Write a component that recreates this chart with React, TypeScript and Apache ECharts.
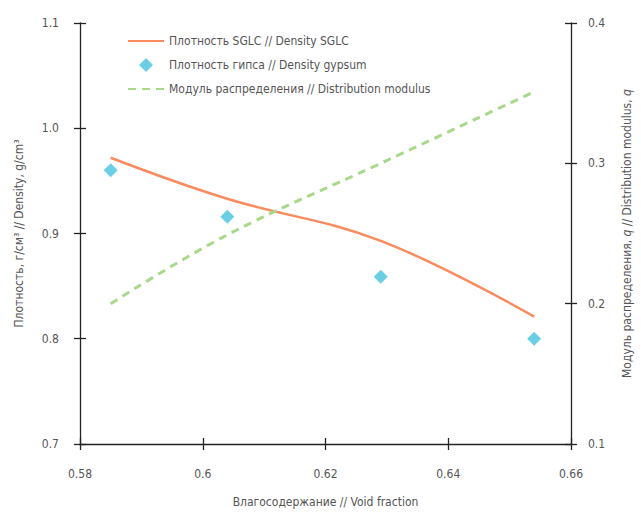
import React, { useEffect, useRef } from "react";
import * as echarts from "echarts";

const voidFraction = [0.585, 0.604, 0.629, 0.654];
const densitySGLC = [0.972, 0.933, 0.893, 0.821];
const densityGypsum = [0.96, 0.916, 0.859, 0.8];
const distributionModulus = [0.2, 0.249, 0.3, 0.351];

const xTicks = { min: 0.58, max: 0.66, interval: 0.02 };
const yLeftTicks = { min: 0.7, max: 1.1, interval: 0.1 };
const yRightTicks = { min: 0.1, max: 0.4, interval: 0.1 };

const FONT = "'DejaVu Sans Condensed', 'Liberation Sans Narrow', sans-serif";
const TEXT = "#555555";
const AXIS = "#222222";
const FS = 12;

const pairs = (xs: number[], ys: number[]) => xs.map((x, i) => [x, ys[i]]);

export default function App() {
  const ref = useRef<HTMLDivElement>(null);
  useEffect(() => {
    if (!ref.current) return;
    const chart = echarts.init(ref.current, null, { renderer: "svg" });
    const axisLine = { show: true, lineStyle: { color: AXIS, width: 1.3 } };
    const tickOut = { show: true, inside: false, length: 6, lineStyle: { color: AXIS, width: 1.3 } };
    const tickIn = { show: true, inside: true, length: 6, lineStyle: { color: AXIS, width: 1.3 } };
    const fmt2 = (v: number) => String(+v.toFixed(2));
    const fmt1 = (v: number) => v.toFixed(1);
    const hidden = { color: "rgba(0,0,0,0)", borderWidth: 0, opacity: 0 };
    chart.setOption({
      animation: false,
      backgroundColor: "#ffffff",
      textStyle: { fontFamily: FONT },
      grid: { left: 80, right: 66, top: 23, bottom: 57, containLabel: false },
      legend: {
        orient: "vertical",
        left: 122,
        top: 30,
        itemWidth: 36,
        itemHeight: 14,
        itemGap: 11,
        textStyle: { fontFamily: FONT, fontSize: FS, color: TEXT },
        data: [
          { name: "Плотность SGLC // Density SGLC", itemStyle: hidden },
          {
            name: "Плотность гипса // Density gypsum",
            icon: "path://M0,0 M36,14 M18,0 L25,7 L18,14 L11,7 Z",
          },
          { name: "Модуль распределения // Distribution modulus", itemStyle: hidden },
        ],
      },
      xAxis: [
        {
          type: "value",
          ...xTicks,
          position: "bottom",
          name: "Влагосодержание // Void fraction",
          nameLocation: "middle",
          nameGap: 52,
          nameTextStyle: { fontFamily: FONT, fontSize: FS, color: TEXT },
          axisLine,
          axisTick: tickOut,
          axisLabel: { fontFamily: FONT, fontSize: FS, color: TEXT, margin: 24, formatter: fmt2 },
          splitLine: { show: false },
        },
        {
          type: "value",
          ...xTicks,
          position: "bottom",
          axisLine: { show: false },
          axisTick: tickIn,
          axisLabel: { show: false },
          splitLine: { show: false },
        },
      ],
      yAxis: [
        {
          type: "value",
          ...yLeftTicks,
          position: "left",
          name: "Плотность, г/см³ // Density, g/cm³",
          nameLocation: "middle",
          nameGap: 55,
          nameTextStyle: { fontFamily: FONT, fontSize: FS, color: TEXT },
          axisLine,
          axisTick: tickOut,
          axisLabel: { fontFamily: FONT, fontSize: FS, color: TEXT, margin: 21, formatter: fmt1 },
          splitLine: { show: false },
        },
        {
          type: "value",
          ...yRightTicks,
          position: "right",
          name: "{n|Модуль распределения, }{i|q}{n| // Distribution modulus, }{i|q}",
          nameLocation: "middle",
          nameGap: 50,
          nameRotate: 90,
          nameTextStyle: {
            fontFamily: FONT,
            fontSize: FS,
            color: TEXT,
            rich: {
              n: { fontFamily: FONT, fontSize: FS, color: TEXT },
              i: { fontFamily: FONT, fontSize: FS, color: TEXT, fontStyle: "italic" },
            },
          },
          axisLine,
          axisTick: tickOut,
          axisLabel: { fontFamily: FONT, fontSize: FS, color: TEXT, margin: 17, formatter: fmt1 },
          splitLine: { show: false },
        },
        {
          type: "value",
          ...yLeftTicks,
          position: "left",
          axisLine: { show: false },
          axisTick: tickIn,
          axisLabel: { show: false },
          splitLine: { show: false },
        },
        {
          type: "value",
          ...yRightTicks,
          position: "right",
          axisLine: { show: false },
          axisTick: tickIn,
          axisLabel: { show: false },
          splitLine: { show: false },
        },
      ],
      series: [
        {
          name: "Плотность SGLC // Density SGLC",
          type: "line",
          xAxisIndex: 0,
          yAxisIndex: 0,
          smooth: 0.4,
          symbol: "none",
          data: pairs(voidFraction, densitySGLC),
          lineStyle: { color: "#F98B5F", width: 2.5 },
          itemStyle: { color: "#F98B5F" },
        },
        {
          name: "Плотность гипса // Density gypsum",
          type: "scatter",
          xAxisIndex: 0,
          yAxisIndex: 0,
          symbol: "diamond",
          symbolSize: 14,
          data: pairs(voidFraction, densityGypsum),
          itemStyle: { color: "#45C3DF" },
        },
        {
          name: "Модуль распределения // Distribution modulus",
          type: "line",
          xAxisIndex: 0,
          yAxisIndex: 1,
          smooth: 0.4,
          symbol: "none",
          data: pairs(voidFraction, distributionModulus),
          lineStyle: { color: "#A8D88A", width: 3, type: [8, 6] },
          itemStyle: { color: "#A8D88A" },
        },
      ],
    });
    return () => chart.dispose();
  }, []);
  return (
    <div
      ref={ref}
      style={{ position: "fixed", left: 0, top: 0, width: 641, height: 513, background: "#fff" }}
    />
  );
}
